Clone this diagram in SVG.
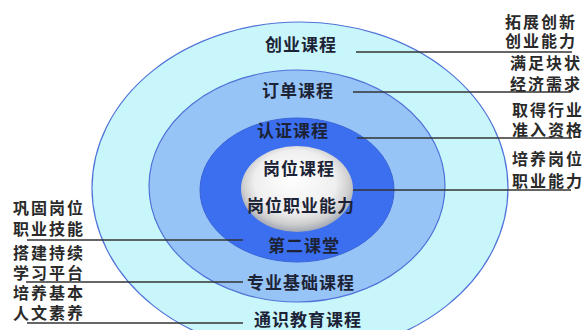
<svg xmlns="http://www.w3.org/2000/svg" width="585" height="330" viewBox="0 0 585 330">
<defs>
<radialGradient id="core" cx="50%" cy="45%" r="55%" fx="45%" fy="35%">
<stop offset="0" stop-color="#ffffff"/>
<stop offset="0.66" stop-color="#efefef"/>
<stop offset="0.86" stop-color="#cfcfcf"/>
<stop offset="1" stop-color="#a0a6b2"/>
</radialGradient>
<style>
.ring{stroke:#4f72d8;stroke-width:1.2}
.lbl{font-family:"Noto Sans CJK SC","Liberation Sans",sans-serif;font-size:17px;font-weight:bold;fill:#1c2336;text-anchor:middle;dominant-baseline:central;letter-spacing:1px}
.side{font-family:"Noto Sans CJK SC","Liberation Sans",sans-serif;font-size:16px;font-weight:bold;fill:#2a2a2a;dominant-baseline:central;letter-spacing:2px}
.ln{stroke:#333;stroke-width:1.5;fill:none}
</style>
</defs>
<rect width="585" height="330" fill="#ffffff"/>
<g id="ring-outer"><ellipse class="ring" cx="300" cy="188" rx="208" ry="166" fill="#c8f6fb"/></g>
<g id="ring-2"><ellipse class="ring" cx="297" cy="186" rx="148" ry="116" fill="#97c4f6"/></g>
<g id="ring-3"><ellipse cx="297" cy="190" rx="97" ry="72" fill="#3b6ff0" stroke="#3a64d8" stroke-width="1"/></g>
<g id="core-node"><ellipse cx="297" cy="189" rx="56" ry="43" fill="url(#core)"/></g>
<g id="connectors">
<line class="ln" x1="356" y1="52" x2="572" y2="52"/>
<line class="ln" x1="353" y1="92" x2="571" y2="92"/>
<line class="ln" x1="357" y1="138" x2="572" y2="138"/>
<line class="ln" x1="353" y1="190" x2="571" y2="190"/>
<line class="ln" x1="27" y1="240" x2="243" y2="240"/>
<line class="ln" x1="26" y1="282" x2="243" y2="282"/>
<line class="ln" x1="27" y1="323" x2="243" y2="323"/>
</g>
<g id="labels-rings">
<text class="lbl" x="301" y="43">创业课程</text>
<text class="lbl" x="298" y="89">订单课程</text>
<text class="lbl" x="293" y="129">认证课程</text>
<text class="lbl" x="299" y="167">岗位课程</text>
<text class="lbl" x="301" y="204">岗位职业能力</text>
<text class="lbl" x="304" y="244">第二课堂</text>
<text class="lbl" x="301" y="281">专业基础课程</text>
<text class="lbl" x="308" y="318">通识教育课程</text>
</g>
<g id="labels-right">
<text class="side"><tspan x="505" y="21">拓展创新</tspan><tspan x="505" y="40">创业能力</tspan></text>
<text class="side"><tspan x="510" y="62">满足块状</tspan><tspan x="510" y="83">经济需求</tspan></text>
<text class="side"><tspan x="512" y="109">取得行业</tspan><tspan x="512" y="129">准入资格</tspan></text>
<text class="side"><tspan x="512" y="158">培养岗位</tspan><tspan x="512" y="180">职业能力</tspan></text>
</g>
<g id="labels-left">
<text class="side"><tspan x="13" y="207">巩固岗位</tspan><tspan x="13" y="228">职业技能</tspan></text>
<text class="side"><tspan x="13" y="252">搭建持续</tspan><tspan x="13" y="272">学习平台</tspan></text>
<text class="side"><tspan x="13" y="292">培养基本</tspan><tspan x="13" y="312">人文素养</tspan></text>
</g>
</svg>
